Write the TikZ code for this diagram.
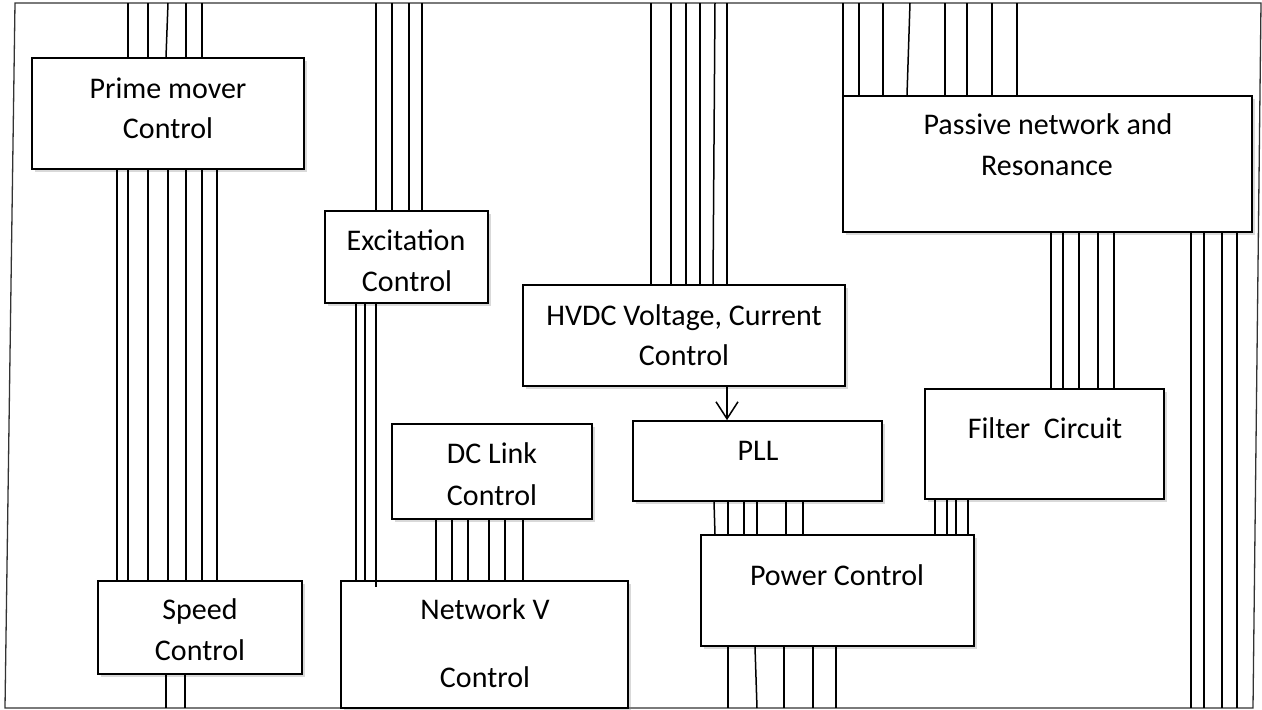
\documentclass[tikz,border=0pt]{standalone}
\usepackage{fontspec}
\setmainfont{Carlito}
\usetikzlibrary{arrows.meta,shadows}
\begin{document}
\begin{tikzpicture}[x=1pt,y=-1pt,
  box/.style={draw=black,line width=1.7pt,fill=white,inner sep=0pt,
    drop shadow={shadow xshift=3pt,shadow yshift=-3pt,opacity=0.3}},
  wire/.style={draw=black,line width=1.5pt},
  frameline/.style={draw=black!80,line width=1.3pt},
  lbl/.style={font=\fontsize{30}{36}\selectfont,anchor=base,inner sep=0pt,text=black}]
\useasboundingbox (0,0) rectangle (1262,710);
% frame
\coordinate (ftl) at (15,3);
\coordinate (ftr) at (1261,3);
\coordinate (fbr) at (1253,708);
\coordinate (fbl) at (5,708);
\coordinate (ftop) at (0,3);
\coordinate (fbot) at (0,708);
\draw[frameline] (ftl) -- (ftr) -- (fbr) -- (fbl) -- cycle;
% boxes
\node[box,minimum width=272pt,minimum height=111pt] (pm) at (168,113.5) {};
\node[box,minimum width=163pt,minimum height=92pt] (ex) at (406.5,257) {};
\node[box,minimum width=322pt,minimum height=101pt] (hv) at (684,335.5) {};
\node[box,minimum width=409pt,minimum height=136pt] (pn) at (1047.5,164) {};
\node[box,minimum width=239pt,minimum height=110pt] (fc) at (1044.5,444) {};
\node[box,minimum width=249pt,minimum height=80pt] (pll) at (757.5,461) {};
\node[box,minimum width=200pt,minimum height=95pt] (dc) at (492,471.5) {};
\node[box,minimum width=273pt,minimum height=111pt] (pw) at (837.5,590.5) {};
\node[box,minimum width=204pt,minimum height=93pt] (sp) at (200,627.5) {};
\node[box,minimum width=287pt,minimum height=127pt] (nv) at (484.5,644.5) {};
% labels
\node[lbl] (t1a) at (168,98) {Prime mover};
\node[lbl] (t1b) at (168,138) {Control};
\node[lbl] (t2a) at (406,250) {Excitation};
\node[lbl] (t2b) at (407,291) {Control};
\node[lbl] (t3a) at (684,325) {HVDC Voltage, Current};
\node[lbl] (t3b) at (684,365) {Control};
\node[lbl] (t4a) at (1048,134) {Passive network and};
\node[lbl] (t4b) at (1047,175) {Resonance};
\node[lbl] (t5) at (1045,438) {Filter\ \ Circuit};
\node[lbl] (t6) at (758,460) {PLL};
\node[lbl] (t7a) at (492,463) {DC Link};
\node[lbl] (t7b) at (492,505) {Control};
\node[lbl] (t8) at (837,585) {Power Control};
\node[lbl] (t9a) at (200,619) {Speed};
\node[lbl] (t9b) at (200,660) {Control};
\node[lbl] (t10a) at (485,619) {Network V};
\node[lbl] (t10b) at (485,687) {Control};
% wires: top frame -> prime mover
\foreach \x in {128,148,186,202} \draw[wire] (\x,0 |- ftop) -- (\x,0 |- pm.north);
\draw[wire] (168,0 |- ftop) -- (166,0 |- pm.north);
% prime mover -> speed
\foreach \x in {117,128,148,168,186,202,217} \draw[wire] (\x,0 |- pm.south) -- (\x,0 |- sp.north);
% speed -> bottom
\foreach \x in {166,185} \draw[wire] (\x,0 |- sp.south) -- (\x,0 |- fbot);
% top -> excitation
\foreach \x in {376,392,409,422} \draw[wire] (\x,0 |- ftop) -- (\x,0 |- ex.north);
% excitation -> network V
\foreach \x in {356,365} \draw[wire] (\x,0 |- ex.south) -- (\x,0 |- nv.north);
\draw[wire] (376,0 |- nv.north) ++(0,7) -- (376,0 |- ex.south);
% DC link -> network V
\foreach \x in {436,452,468,489,505,523} \draw[wire] (\x,0 |- dc.south) -- (\x,0 |- nv.north);
% top -> HVDC
\foreach \x in {651,671,686,700,727} \draw[wire] (\x,0 |- ftop) -- (\x,0 |- hv.north);
\draw[wire] (715,0 |- ftop) -- (713,0 |- hv.north);
% top -> passive network
\foreach \x in {843,859,883,945,967,992,1017} \draw[wire] (\x,0 |- ftop) -- (\x,0 |- pn.north);
\draw[wire] (910,0 |- ftop) -- (907,0 |- pn.north);
% HVDC -> PLL arrow
\draw[wire,-{Straight Barb[length=17pt,width=22pt]}] (727,0 |- hv.south) -- (727,0 |- pll.north);
% passive -> filter
\foreach \x in {1051,1063,1079,1098,1114} \draw[wire] (\x,0 |- pn.south) -- (\x,0 |- fc.north);
% passive -> bottom
\foreach \x in {1191,1204,1222,1237} \draw[wire] (\x,0 |- pn.south) -- (\x,0 |- fbot);
% PLL -> power
\foreach \x in {728,744,757,786,803} \draw[wire] (\x,0 |- pll.south) -- (\x,0 |- pw.north);
\draw[wire] (714,0 |- pll.south) -- (715,0 |- pw.north);
% filter -> power
\foreach \x in {935,947,956,968} \draw[wire] (\x,0 |- fc.south) -- (\x,0 |- pw.north);
% power -> bottom
\foreach \x in {728,784,813,836} \draw[wire] (\x,0 |- pw.south) -- (\x,0 |- fbot);
\draw[wire] (755,0 |- pw.south) -- (757,0 |- fbot);
\end{tikzpicture}
\end{document}
